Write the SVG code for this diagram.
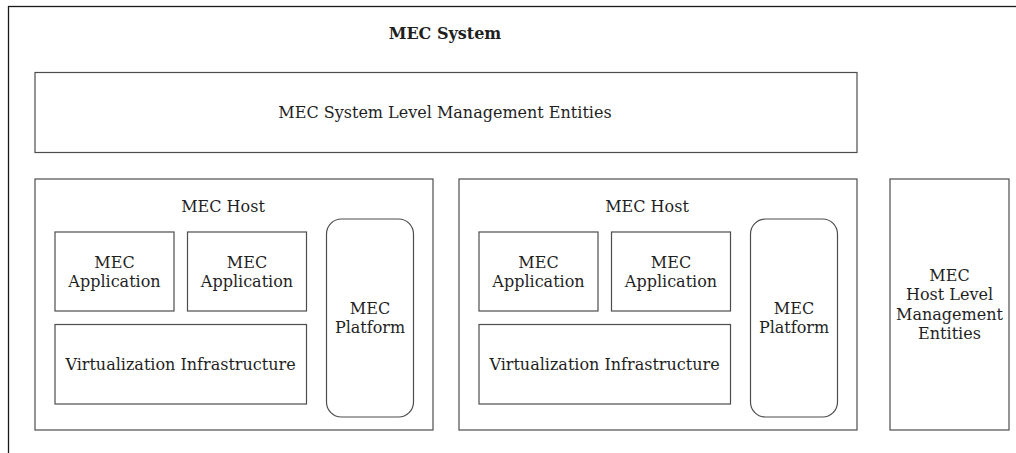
<svg xmlns="http://www.w3.org/2000/svg" width="1016" height="453" viewBox="0 0 1016 453">
  <style>
    .box { fill: #ffffff; stroke: #4d4d4d; stroke-width: 1.2; }
    .frame { fill: #ffffff; stroke: #1a1a1a; stroke-width: 1.3; }
    text { font-family: "DejaVu Serif", "Liberation Serif", serif; font-size: 16px; fill: #1f1f1f; text-anchor: middle; dominant-baseline: central; }
    .title { font-weight: bold; }
  </style>
  <defs>
    <!-- one MEC host: two applications, virtualization layer and platform -->
    <g id="host-body">
      <rect class="box" x="35" y="179" width="398" height="251"/>
      <text x="223" y="206">MEC Host</text>
      <rect class="box" x="55" y="232" width="119" height="79"/>
      <text x="114.5" y="262">MEC</text>
      <text x="114.5" y="281">Application</text>
      <rect class="box" x="187.5" y="232" width="119" height="79"/>
      <text x="247" y="262">MEC</text>
      <text x="247" y="281">Application</text>
      <rect class="box" x="55" y="324.5" width="251.5" height="79.5"/>
      <text x="180.5" y="364">Virtualization Infrastructure</text>
      <rect class="box" x="326.5" y="219" width="87" height="198" rx="15" ry="15"/>
      <text x="370" y="308">MEC</text>
      <text x="370" y="327">Platform</text>
    </g>
  </defs>

  <g id="mec-system">
    <rect class="frame" x="8.5" y="6.5" width="1020" height="460"/>
    <text class="title" x="445" y="33">MEC System</text>
  </g>

  <g id="system-level-management">
    <rect class="box" x="35" y="72.5" width="822" height="80"/>
    <text x="445" y="112">MEC System Level Management Entities</text>
  </g>

  <g id="mec-host-1">
    <use href="#host-body"/>
  </g>

  <g id="mec-host-2">
    <use href="#host-body" transform="translate(424 0)"/>
  </g>

  <g id="host-level-management">
    <rect class="box" x="890" y="179" width="119" height="251"/>
    <text x="949.5" y="275">MEC</text>
    <text x="949.5" y="294.5">Host Level</text>
    <text x="949.5" y="314">Management</text>
    <text x="949.5" y="333.5">Entities</text>
  </g>

  <g id="connectors"></g>
</svg>
